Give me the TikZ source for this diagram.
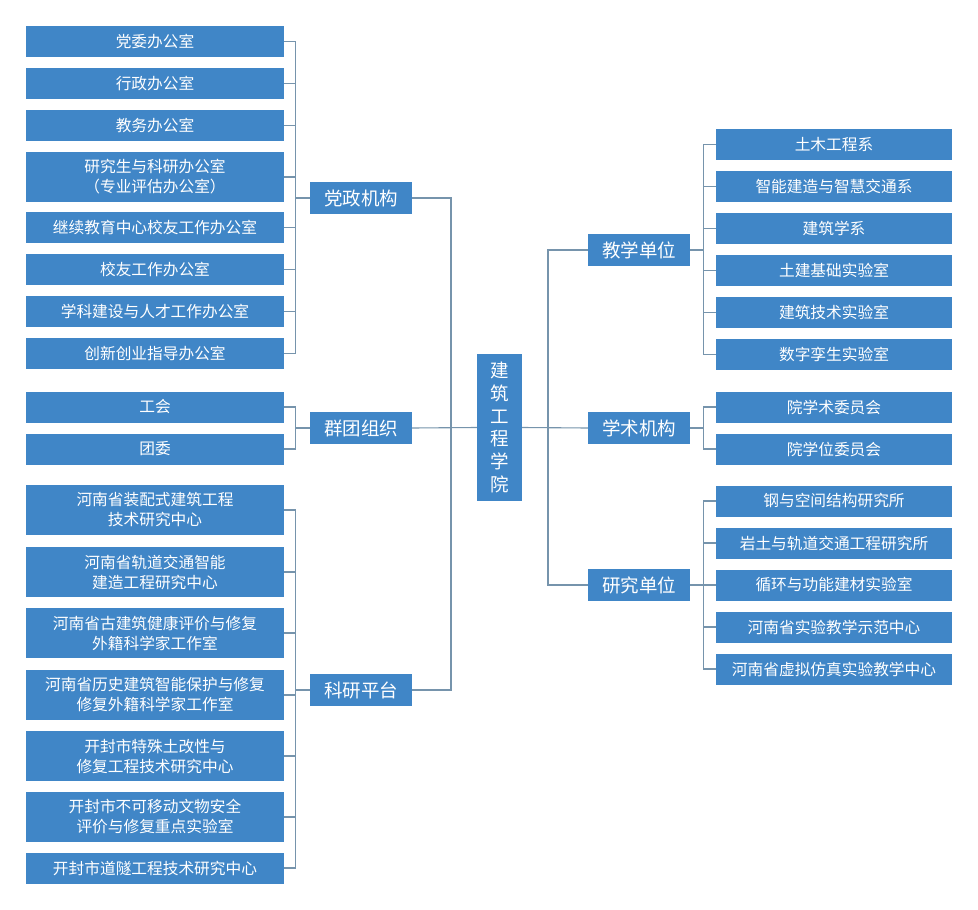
\documentclass[tikz,border=0pt]{standalone}
\usepackage{fontspec}
\setmainfont{Noto Sans CJK SC}
\usetikzlibrary{calc}
\definecolor{boxblue}{RGB}{64,134,199}
\definecolor{linkgray}{RGB}{118,148,172}

\begin{document}
\begin{tikzpicture}[x=1pt,y=-1pt,
  unit/.style={fill=boxblue,text=white,inner sep=0pt,align=center,
    minimum height=31pt,font=\fontsize{15.7}{20}\selectfont},
  leftunit/.style={unit,minimum width=258pt},
  rightunit/.style={unit,minimum width=236pt},
  group/.style={fill=boxblue,text=white,inner sep=0pt,minimum width=102pt,
    minimum height=32pt,font=\fontsize{18.5}{22}\selectfont},
  college/.style={fill=boxblue,text=white,inner sep=0pt,align=center,
    minimum width=45pt,minimum height=147pt,font=\fontsize{18.5}{22.8}\selectfont},
  link/.style={draw=linkgray,line width=1.1pt}]
\fill[white] (0,0) rectangle (978,910);
\useasboundingbox (0,0) rectangle (978,910);

% College in the middle
\node[college] (xy) at (499.5,427.5) {建\\筑\\工\\程\\学\\院};

% Groups on the left
\node[group] (dz) at (361,198) {党政机构};
\node[group] (qt) at (361,428) {群团组织};
\node[group] (ky) at (361,690) {科研平台};

% Groups on the right
\node[group] (js) at (639,250) {教学单位};
\node[group] (xs) at (639,428) {学术机构};
\node[group] (yj) at (639,585) {研究单位};

% Offices under the party and admin group
\foreach \i/\y/\h/\t in {1/41.5/31/党委办公室,2/83.5/31/行政办公室,
    3/125.5/31/教务办公室,4/177/50/{研究生与科研办公室\\（专业评估办公室）},
    5/227.5/31/继续教育中心校友工作办公室,6/269.5/31/校友工作办公室,
    7/311.5/31/学科建设与人才工作办公室,8/353.5/31/创新创业指导办公室}{
  \node[leftunit,minimum height=\h pt] (dz\i) at (155,\y) {\t};
  \draw[link] (dz.west) -- ++(-14,0) |- (dz\i.east);
}

% Union and league
\foreach \i/\y/\t in {1/407/工会,2/449/团委}{
  \node[leftunit] (qt\i) at (155,\y) {\t};
  \draw[link] (qt.west) -- ++(-14,0) |- (qt\i.east);
}

% Research platforms
\foreach \i/\y/\h/\t in {1/510/50/{河南省装配式建筑工程\\技术研究中心},
    2/572/50/{河南省轨道交通智能\\建造工程研究中心},
    3/633/50/{河南省古建筑健康评价与修复\\外籍科学家工作室},
    4/695/50/{河南省历史建筑智能保护与修复\\修复外籍科学家工作室},
    5/756/50/{开封市特殊土改性与\\修复工程技术研究中心},
    6/817/50/{开封市不可移动文物安全\\评价与修复重点实验室},
    7/868/31/开封市道隧工程技术研究中心}{
  \node[leftunit,minimum height=\h pt] (ky\i) at (155,\y) {\t};
  \draw[link] (ky.west) -- ++(-14,0) |- (ky\i.east);
}

% Teaching units
\foreach \i/\y/\t in {1/144.5/土木工程系,2/186.5/智能建造与智慧交通系,
    3/228.5/建筑学系,4/270.5/土建基础实验室,5/312.5/建筑技术实验室,
    6/354.5/数字孪生实验室}{
  \node[rightunit] (js\i) at (834,\y) {\t};
  \draw[link] (js.east) -- ++(13,0) |- (js\i.west);
}

% Academic committees
\foreach \i/\y/\t in {1/407/院学术委员会,2/449/院学位委员会}{
  \node[rightunit] (xs\i) at (834,\y) {\t};
  \draw[link] (xs.east) -- ++(13,0) |- (xs\i.west);
}

% Research units
\foreach \i/\y/\t in {1/501/钢与空间结构研究所,2/543/岩土与轨道交通工程研究所,
    3/585/循环与功能建材实验室,4/627/河南省实验教学示范中心,
    5/669/河南省虚拟仿真实验教学中心}{
  \node[rightunit] (yj\i) at (834,\y) {\t};
  \draw[link] (yj.east) -- ++(13,0) |- (yj\i.west);
}

% Buses joining the groups to the college
\coordinate (lbus) at (451,428);
\coordinate (rbus) at (548,428);
\draw[link] (dz.east) -| (lbus);
\draw[link] (ky.east) -| (lbus);
\draw[link] (qt.east) -- (xy.west);
\draw[link] (js.west) -| (rbus);
\draw[link] (yj.west) -| (rbus);
\draw[link] (xy.east) -- (xs.west);
\end{tikzpicture}
\end{document}
